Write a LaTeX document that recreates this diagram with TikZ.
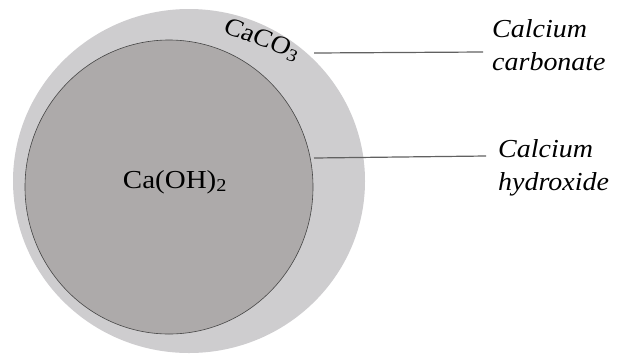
\documentclass[tikz,border=0pt]{standalone}
\usepackage{fontspec}
\setmainfont{Liberation Serif}
\begin{document}
\begin{tikzpicture}[x=1bp,y=-1bp,
  chem/.style={inner sep=0pt, font=\fontsize{26}{31}\selectfont, xscale=1.12},
  lbl/.style={inner sep=0pt, anchor=north west, align=left, font=\fontsize{26}{33}\selectfont\itshape, xscale=1.08},
  leader/.style={draw=black!62, line width=1.2bp}]
\useasboundingbox (0,0) rectangle (618,353);
\fill[fill={rgb,255:red,206;green,205;blue,207}] (189,181) ellipse [x radius=176, y radius=172];
\filldraw[fill={rgb,255:red,173;green,170;blue,170}, draw={rgb,255:red,70;green,70;blue,70}, line width=0.6bp]
  (169,187) ellipse [x radius=144, y radius=147];
\node[chem, anchor=base] (oh) at (175,188) {Ca(OH)\textsubscript{2}};
\node[chem, rotate=-22, font=\fontsize{25}{29}\selectfont] (co) at (262,40) {CaCO\textsubscript{3}};
\node[lbl] (carb) at (492,19) {Calcium\\carbonate};
\node[lbl] (hyd) at (498,139) {Calcium\\hydroxide};
\coordinate (c1) at (314,53);
\coordinate (c2) at (483,52);
\coordinate (h1) at (314,158);
\coordinate (h2) at (486,156);
\draw[leader] (c1) -- (c2);
\draw[leader] (h1) -- (h2);
\end{tikzpicture}
\end{document}
